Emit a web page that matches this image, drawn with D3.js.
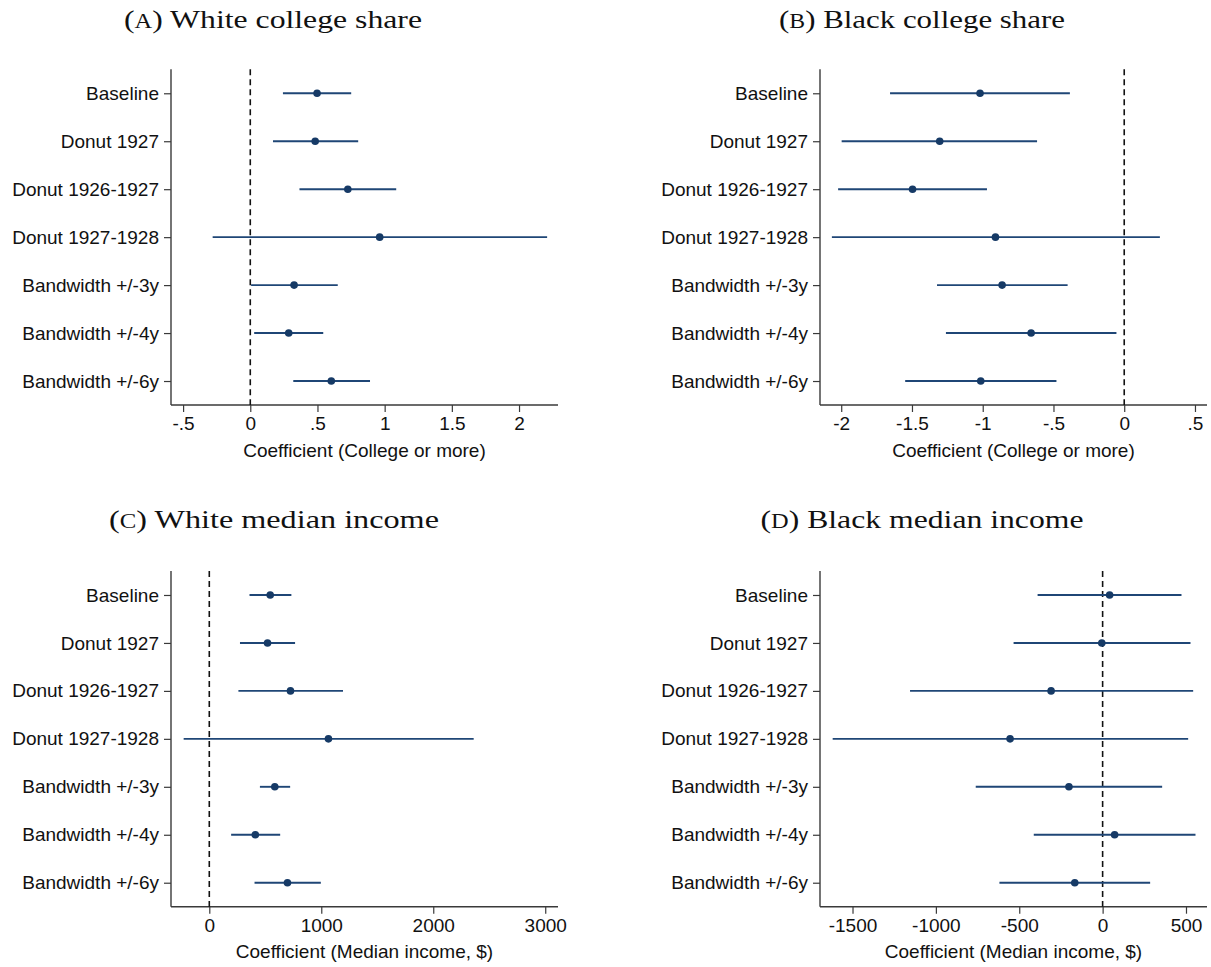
<!DOCTYPE html>
<html>
<head>
<meta charset="utf-8">
<script src="https://cdn.jsdelivr.net/npm/d3@7"></script>
<style>
  html, body { margin: 0; padding: 0; background: #fff; }
  svg { display: block; }
</style>
</head>
<body>
<svg id="chart" width="1211" height="967"></svg>
<script>
// ---------------- DATA ----------------
const categories = ["Baseline", "Donut 1927", "Donut 1926-1927", "Donut 1927-1928",
                    "Bandwidth +/-3y", "Bandwidth +/-4y", "Bandwidth +/-6y"];

// (A) White college share
const whiteCollegeCoef = [0.497, 0.483, 0.726, 0.963, 0.326, 0.286, 0.603];
const whiteCollegeLo   = [0.243, 0.169, 0.366, -0.280, 0.006, 0.029, 0.320];
const whiteCollegeHi   = [0.751, 0.803, 1.086, 2.209, 0.651, 0.543, 0.891];

// (B) Black college share
const blackCollegeCoef = [-1.019, -1.304, -1.496, -0.910, -0.863, -0.658, -1.014];
const blackCollegeLo   = [-1.655, -1.997, -2.022, -2.066, -1.323, -1.260, -1.548];
const blackCollegeHi   = [-0.384, -0.616, -0.970, 0.252, -0.400, -0.055, -0.479];

// (C) White median income
const whiteIncomeCoef = [544, 520, 725, 1064, 585, 411, 698];
const whiteIncomeLo   = [359, 274, 260, -229, 452, 195, 404];
const whiteIncomeHi   = [733, 766, 1194, 2361, 722, 633, 996];

// (D) Black median income
const blackIncomeCoef = [42, -5, -309, -555, -202, 72, -167];
const blackIncomeLo   = [-390, -534, -1155, -1619, -761, -413, -619];
const blackIncomeHi   = [473, 527, 543, 513, 357, 557, 285];

// Tick values and labels
const ticksWhiteCollege = [-0.5, 0, 0.5, 1, 1.5, 2];
const tickLabelsWhiteCollege = ["-.5", "0", ".5", "1", "1.5", "2"];
const ticksBlackCollege = [-2, -1.5, -1, -0.5, 0, 0.5];
const tickLabelsBlackCollege = ["-2", "-1.5", "-1", "-.5", "0", ".5"];
const ticksWhiteIncome = [0, 1000, 2000, 3000];
const tickLabelsWhiteIncome = ["0", "1000", "2000", "3000"];
const ticksBlackIncome = [-1500, -1000, -500, 0, 500];
const tickLabelsBlackIncome = ["-1500", "-1000", "-500", "0", "500"];

const panelLetters = ["A", "B", "C", "D"];
const panelTitles = ["White college share", "Black college share",
                     "White median income", "Black median income"];
const axisTitles = ["Coefficient (College or more)", "Coefficient (College or more)",
                    "Coefficient (Median income, $)", "Coefficient (Median income, $)"];

// ---------------- LAYOUT ----------------
const panels = [
  { letter: panelLetters[0], title: panelTitles[0], xTitle: axisTitles[0],
    coef: whiteCollegeCoef, lo: whiteCollegeLo, hi: whiteCollegeHi,
    ticks: ticksWhiteCollege, tickLabels: tickLabelsWhiteCollege,
    domain: [-0.59, 2.29], x0: 171, x1: 558, top: 69.3, bottom: 405,
    titleX: 273, titleY: 27.5, titleW: 298 },
  { letter: panelLetters[1], title: panelTitles[1], xTitle: axisTitles[1],
    coef: blackCollegeCoef, lo: blackCollegeLo, hi: blackCollegeHi,
    ticks: ticksBlackCollege, tickLabels: tickLabelsBlackCollege,
    domain: [-2.15, 0.585], x0: 820, x1: 1207, top: 69.3, bottom: 405,
    titleX: 922, titleY: 27.5, titleW: 286 },
  { letter: panelLetters[2], title: panelTitles[2], xTitle: axisTitles[2],
    coef: whiteIncomeCoef, lo: whiteIncomeLo, hi: whiteIncomeHi,
    ticks: ticksWhiteIncome, tickLabels: tickLabelsWhiteIncome,
    domain: [-342, 3114], x0: 171, x1: 558, top: 571, bottom: 906.7,
    titleX: 274, titleY: 528, titleW: 330 },
  { letter: panelLetters[3], title: panelTitles[3], xTitle: axisTitles[3],
    coef: blackIncomeCoef, lo: blackIncomeLo, hi: blackIncomeHi,
    ticks: ticksBlackIncome, tickLabels: tickLabelsBlackIncome,
    domain: [-1695, 626], x0: 820, x1: 1207, top: 571, bottom: 906.7,
    titleX: 922, titleY: 528, titleW: 323 }
];

const LINE_COLOR = "#1f4676";
const DOT_COLOR = "#163a66";
const AXIS_COLOR = "#3a3a3a";
const LABEL_FONT = "'Liberation Sans', Arial, Helvetica, sans-serif";
const TITLE_FONT = "'Liberation Serif', 'Times New Roman', serif";

const svg = d3.select("#chart");

panels.forEach(p => {
  const g = svg.append("g");
  const x = d3.scaleLinear().domain(p.domain).range([p.x0, p.x1]);
  const y = d3.scalePoint().domain(categories).range([p.top, p.bottom]).padding(0.5);

  // Title (serif, small-caps letter)
  const t = g.append("text")
    .attr("x", p.titleX).attr("y", p.titleY)
    .attr("text-anchor", "middle")
    .attr("textLength", p.titleW)
    .attr("lengthAdjust", "spacingAndGlyphs")
    .style("font-family", TITLE_FONT)
    .style("font-size", "26px")
    .style("fill", "#111");
  t.append("tspan").text("(");
  t.append("tspan").style("font-size", "20px").text(p.letter);
  t.append("tspan").text(") " + p.title);

  // Y axis
  const yAxis = d3.axisLeft(y).tickSize(7).tickPadding(5).tickSizeOuter(0);
  const gy = g.append("g").attr("transform", `translate(${p.x0},0)`).call(yAxis);
  gy.select(".domain").remove();
  gy.append("line").attr("x1", 0).attr("x2", 0).attr("y1", p.top).attr("y2", p.bottom)
    .attr("stroke", AXIS_COLOR).attr("stroke-width", 1.4);
  gy.selectAll(".tick line").attr("stroke", AXIS_COLOR).attr("stroke-width", 1.2);
  gy.selectAll(".tick text")
    .style("font-family", LABEL_FONT).style("font-size", "19px").style("fill", "#111");

  // X axis
  const xAxis = d3.axisBottom(x).tickValues(p.ticks)
    .tickFormat((d, i) => p.tickLabels[i]).tickSize(7).tickPadding(5).tickSizeOuter(0);
  const gx = g.append("g").attr("transform", `translate(0,${p.bottom})`).call(xAxis);
  gx.select(".domain").remove();
  gx.append("line").attr("x1", p.x0).attr("x2", p.x1).attr("y1", 0).attr("y2", 0)
    .attr("stroke", AXIS_COLOR).attr("stroke-width", 1.4);
  gx.selectAll(".tick line").attr("stroke", AXIS_COLOR).attr("stroke-width", 1.2);
  gx.selectAll(".tick text")
    .style("font-family", LABEL_FONT).style("font-size", "19px").style("fill", "#111");

  // Axis title
  g.append("text")
    .attr("x", (p.x0 + p.x1) / 2).attr("y", p.bottom + 51.5)
    .attr("text-anchor", "middle")
    .style("font-family", LABEL_FONT).style("font-size", "19px").style("fill", "#111")
    .text(p.xTitle);

  // Zero reference line
  g.append("line")
    .attr("x1", x(0)).attr("x2", x(0)).attr("y1", p.top).attr("y2", p.bottom)
    .attr("stroke", "#111").attr("stroke-width", 1.6).attr("stroke-dasharray", "6,4");

  // CI lines
  g.selectAll("line.ci").data(categories).enter().append("line")
    .attr("class", "ci")
    .attr("x1", (d, i) => x(p.lo[i])).attr("x2", (d, i) => x(p.hi[i]))
    .attr("y1", d => y(d)).attr("y2", d => y(d))
    .attr("stroke", LINE_COLOR).attr("stroke-width", 1.9);

  // Points
  g.selectAll("circle.pt").data(categories).enter().append("circle")
    .attr("class", "pt")
    .attr("cx", (d, i) => x(p.coef[i])).attr("cy", d => y(d))
    .attr("r", 3.8).attr("fill", DOT_COLOR);
});
</script>
</body>
</html>
